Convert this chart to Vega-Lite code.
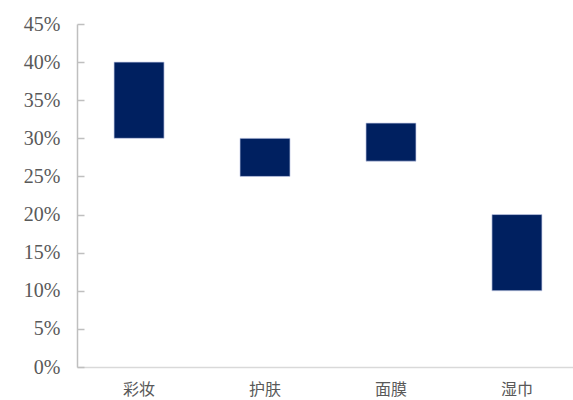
{
  "$schema": "https://vega.github.io/schema/vega-lite/v6.json",
  "width": 496,
  "height": 343,
  "autosize": {"type": "none"},
  "padding": {"left": 77, "top": 24, "right": 0, "bottom": 33},
  "background": "white",
  "data": {
    "values": [
      {"cat": "彩妆", "low": 0.30, "high": 0.40},
      {"cat": "护肤", "low": 0.25, "high": 0.30},
      {"cat": "面膜", "low": 0.27, "high": 0.32},
      {"cat": "湿巾", "low": 0.10, "high": 0.20}
    ]
  },
  "mark": {"type": "bar", "color": "#002060", "stroke": "#c5cde8", "strokeWidth": 0.7},
  "encoding": {
    "x": {
      "field": "cat",
      "type": "nominal",
      "sort": null,
      "scale": {"range": [0, 502], "paddingInner": 0.603, "paddingOuter": 0.294},
      "axis": {
        "title": null,
        "labelAngle": 0,
        "ticks": false,
        "domainColor": "#d9d9d9",
        "domainWidth": 1.5,
        "labelFont": "Noto Sans CJK SC",
        "labelFontSize": 16,
        "labelColor": "#595959",
        "labelPadding": 14
      }
    },
    "y": {
      "field": "low",
      "type": "quantitative",
      "scale": {"domain": [0, 0.45], "nice": false},
      "axis": {
        "title": null,
        "format": ".0%",
        "values": [0, 0.05, 0.1, 0.15, 0.2, 0.25, 0.3, 0.35, 0.4, 0.45],
        "grid": false,
        "tickSize": -7,
        "tickColor": "#bfbfbf",
        "tickWidth": 1.5,
        "domainColor": "#bfbfbf",
        "domainWidth": 1.5,
        "labelFont": "Liberation Serif",
        "labelFontSize": 20,
        "labelColor": "#595959",
        "labelPadding": 24
      }
    },
    "y2": {"field": "high"}
  },
  "config": {"view": {"stroke": null}}
}
